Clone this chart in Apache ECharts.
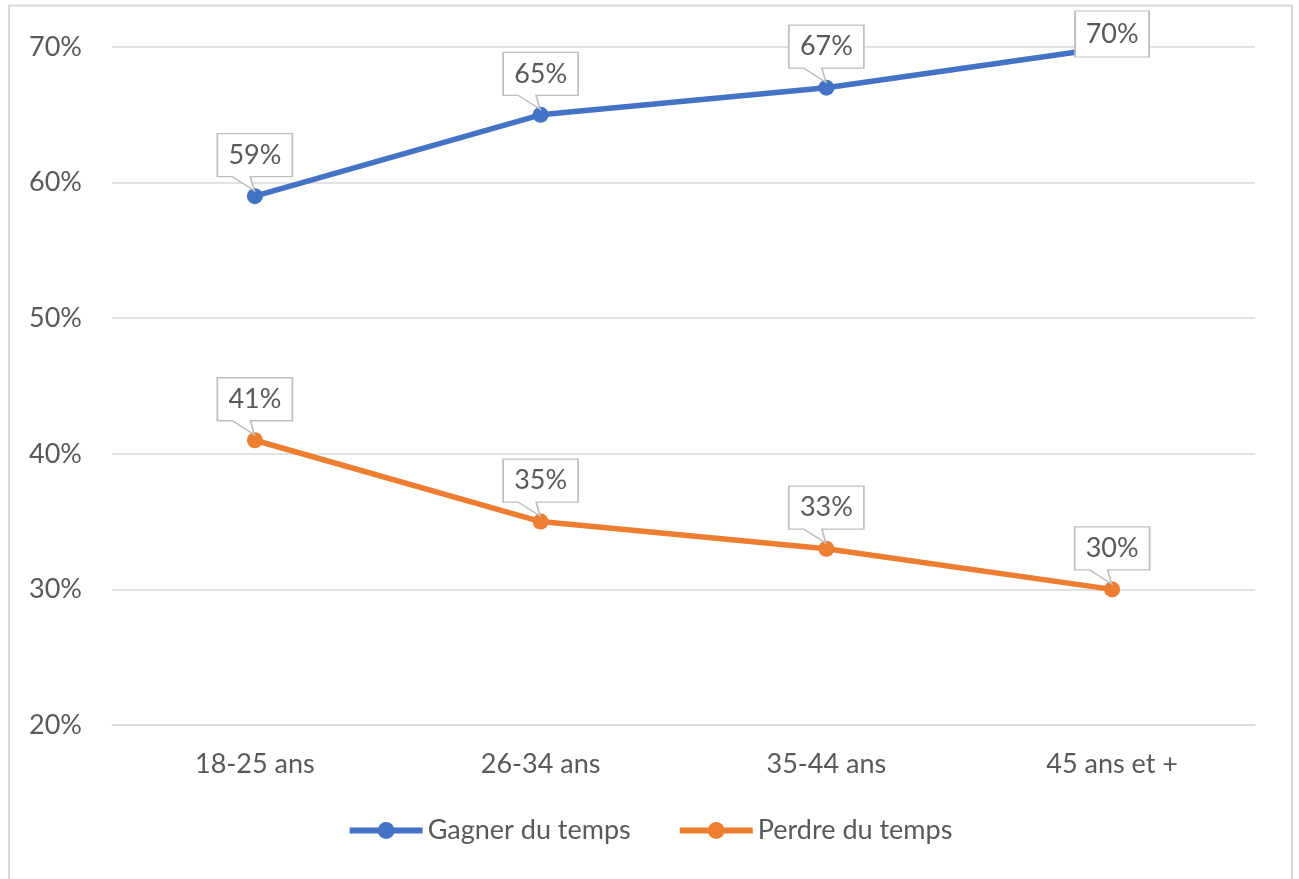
<!DOCTYPE html>
<html>
<head>
<meta charset="utf-8">
<script src="https://cdn.jsdelivr.net/npm/echarts@6/dist/echarts.min.js"></script>
<style>
    html, body { margin: 0; padding: 0; background: #fff; }
    #chart { width: 1299px; height: 879px; }
</style>
</head>
<body>
<div id="chart"></div>
<script>
    // data
    var categories = ['18-25 ans', '26-34 ans', '35-44 ans', '45 ans et +'];
    var gagner = [59, 65, 67, 70];
    var perdre = [41, 35, 33, 30];
    var seriesNames = ['Gagner du temps', 'Perdre du temps'];
    var yTicks = { min: 20, max: 70, step: 10 };

    var textColor = '#595959';
    var font = 'Lato';
    var fontSize = 27;
    var callout = 'path://M0,0L75,0L75,43L33,43L37,57L15,43L0,43Z';

    function calloutPoints(values, plainLast) {
        return values.map(function (v, i) {
            var item = { coord: [i, v], value: v };
            if (plainLast && i === values.length - 1) {
                // the last label sits on the point, without its pointer
                item.symbol = 'rect';
                item.symbolSize = [74, 46];
                item.symbolOffset = [0, -13];
                item.label = { offset: [0, 0] };
            }
            return item;
        });
    }

    function makeSeries(name, values, color, plainLast) {
        return {
            name: name,
            type: 'line',
            data: values,
            symbol: 'circle',
            symbolSize: 16,
            lineStyle: { color: color, width: 5.5 },
            itemStyle: { color: color },
            emphasis: { disabled: true },
            markPoint: {
                symbol: callout,
                symbolSize: [75, 57],
                symbolOffset: [0, -34],
                silent: true,
                itemStyle: { color: '#fff', borderColor: '#bfbfbf', borderWidth: 1.5 },
                label: {
                    show: true,
                    position: 'inside',
                    offset: [0, -7],
                    color: textColor,
                    fontFamily: font,
                    fontSize: fontSize,
                    formatter: function (p) { return p.value + '%'; }
                },
                data: calloutPoints(values, plainLast)
            }
        };
    }

    var chart = echarts.init(document.getElementById('chart'));
    var option = {
        animation: false,
        backgroundColor: '#fff',
        graphic: [{
            type: 'rect',
            shape: { x: 9, y: 5.5, width: 1283, height: 900 },
            style: { fill: null, stroke: '#d9d9d9', lineWidth: 2 },
            silent: true
        }],
        grid: { left: 112, right: 44, top: 47, bottom: 154 },
        legend: {
            bottom: 30,
            left: 'center',
            itemWidth: 73,
            itemHeight: 21,
            itemGap: 46,
            lineStyle: { width: 6 },
            textStyle: { color: textColor, fontFamily: font, fontSize: fontSize },
            data: seriesNames
        },
        xAxis: {
            type: 'category',
            data: categories,
            axisTick: { show: false },
            axisLine: { lineStyle: { color: '#d9d9d9', width: 1.5 } },
            axisLabel: { color: textColor, fontFamily: font, fontSize: fontSize, margin: 26 }
        },
        yAxis: {
            type: 'value',
            min: yTicks.min,
            max: yTicks.max,
            interval: yTicks.step,
            axisLine: { show: false },
            axisTick: { show: false },
            splitLine: { lineStyle: { color: '#d9d9d9', width: 1.5 } },
            axisLabel: { color: textColor, fontFamily: font, fontSize: fontSize, margin: 30, formatter: '{value}%' }
        },
        series: [
            makeSeries(seriesNames[0], gagner, '#4472C4', true),
            makeSeries(seriesNames[1], perdre, '#ED7D31', false)
        ]
    };
    chart.setOption(option);
</script>
</body>
</html>
